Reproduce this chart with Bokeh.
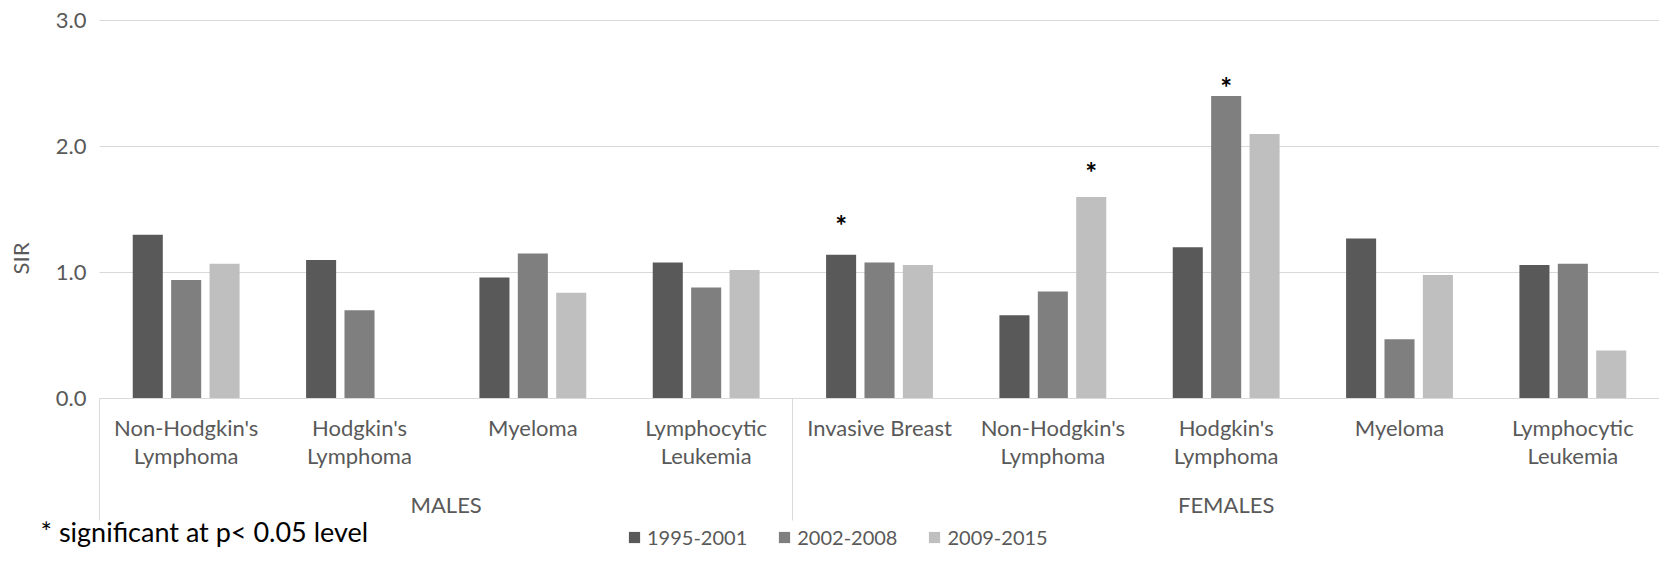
import numpy as np
from bokeh.plotting import figure
from bokeh.models import (ColumnDataSource, Range1d, LinearAxis, FixedTicker,
                          Legend, LegendItem, Label, PrintfTickFormatter)
from bokeh.core.properties import value
from bokeh.embed import file_html
from bokeh.resources import INLINE

# ---------------- data ----------------
groups = ["MALES", "FEMALES"]
group_sizes = [4, 5]
cancers = ["Non-Hodgkin's\nLymphoma", "Hodgkin's\nLymphoma", "Myeloma", "Lymphocytic\nLeukemia",
           "Invasive Breast", "Non-Hodgkin's\nLymphoma", "Hodgkin's\nLymphoma", "Myeloma",
           "Lymphocytic\nLeukemia"]
periods = ["1995-2001", "2002-2008", "2009-2015"]
sir_1995_2001 = [1.30, 1.10, 0.96, 1.08, 1.14, 0.66, 1.20, 1.27, 1.06]
sir_2002_2008 = [0.94, 0.70, 1.15, 0.88, 1.08, 0.85, 2.40, 0.47, 1.07]
sir_2009_2015 = [1.07, None, 0.84, 1.02, 1.06, 1.60, 2.10, 0.98, 0.38]
star_category = [4, 5, 6]
star_period = [0, 2, 1]
star_y = [1.40, 1.82, 2.50]
y_ticks = [0, 1, 2, 3]
y_label = "SIR"
footnote = "* significant at p< 0.05 level"

# ---------------- style / layout ----------------
FONT = "Lato"
GRAY = "#595959"
LINE = "#d9d9d9"
colors = ["#595959", "#7f7f7f", "#bfbfbf"]
PITCH = 0.2215          # distance between bars of a group (category units)
BAR_W = 0.1734          # bar width (category units)
W, H = 1659, 549        # figure size (px)
LEFT_PX = 99            # pixel column of the plot area's left edge
TOP_PX = 20             # pixel row of SIR = 3
ZERO_PX = 398           # pixel row of SIR = 0
SEP_LEN = 122           # length of group separators below the axis (px)

n = len(cancers)
y_max = max(y_ticks)
px_per_unit = (ZERO_PX - TOP_PX) / y_max
cat_px = (W - LEFT_PX) / n
x_lo = -LEFT_PX / cat_px
y_hi = y_max + TOP_PX / px_per_unit
y_lo = -(H - ZERO_PX) / px_per_unit

centers = np.arange(n) + 0.5
bounds = np.concatenate([[0], np.cumsum(group_sizes)]).astype(float)
group_centers = (bounds[:-1] + bounds[1:]) / 2

p = figure(width=W, height=H, x_range=Range1d(x_lo, n), y_range=Range1d(y_lo, y_hi),
           x_axis_type=None, y_axis_type=None,
           output_backend="svg", toolbar_location=None,
           min_border_left=0, min_border_right=0, min_border_top=0, min_border_bottom=0)
p.outline_line_color = None
p.background_fill_color = "white"
p.border_fill_color = "white"

# horizontal grid lines across the category area
p.segment(x0=[0] * len(y_ticks), x1=[n] * len(y_ticks), y0=y_ticks, y1=y_ticks,
          line_color=LINE, line_width=1)

# y axis at the left edge of the category area
yaxis = LinearAxis(ticker=FixedTicker(ticks=y_ticks), fixed_location=0, bounds=(0, y_max),
                   formatter=PrintfTickFormatter(format="%.1f"),
                   axis_line_color=None, major_tick_line_color=None, minor_tick_line_color=None,
                   major_tick_out=0, major_tick_in=0, minor_tick_out=0, minor_tick_in=0,
                   major_label_standoff=13,
                   major_label_text_font=FONT, major_label_text_font_size="22px",
                   major_label_text_color=GRAY)
p.add_layout(yaxis, "left")

# category axis at SIR = 0 (minor ticks draw the group separators)
xt = FixedTicker(ticks=[float(c) for c in centers], minor_ticks=[float(b) for b in bounds])
xaxis = LinearAxis(ticker=xt, fixed_location=0, bounds=(0, n),
                   major_label_overrides={float(c): lab for c, lab in zip(centers, cancers)},
                   axis_line_color=LINE, axis_line_width=1,
                   major_tick_line_color=None, major_tick_out=0, major_tick_in=0,
                   minor_tick_line_color=LINE, minor_tick_line_width=1,
                   minor_tick_out=SEP_LEN, minor_tick_in=0,
                   major_label_standoff=15 - SEP_LEN, major_label_text_font=FONT,
                   major_label_text_font_size="22px", major_label_text_color=GRAY,
                   major_label_text_line_height=1.07)
p.add_layout(xaxis, "below")

# group axis
gt = FixedTicker(ticks=[float(g) for g in group_centers])
gaxis = LinearAxis(ticker=gt, fixed_location=0, bounds=(0, n),
                   major_label_overrides={float(g): lab for g, lab in zip(group_centers, groups)},
                   axis_line_color=None, major_tick_line_color=None, minor_tick_line_color=None,
                   major_tick_out=0, major_tick_in=0, minor_tick_out=0, minor_tick_in=0,
                   major_label_standoff=92,
                   major_label_text_font=FONT, major_label_text_font_size="22px",
                   major_label_text_color=GRAY)
p.add_layout(gaxis, "below")

# bars
series = [sir_1995_2001, sir_2002_2008, sir_2009_2015]
renderers = []
for j, (vals, col) in enumerate(zip(series, colors)):
    src = ColumnDataSource(dict(x=centers + (j - 1) * PITCH, top=np.array(vals, dtype=float)))
    r = p.vbar(x="x", top="top", bottom=0, width=BAR_W, source=src,
               fill_color=col, line_color=None)
    renderers.append(r)

# significance stars
star_x = centers[np.array(star_category)] + (np.array(star_period) - 1) * PITCH
p.text(x=star_x, y=star_y, text=["*"] * len(star_y), text_align="center",
       text_baseline="middle", text_font=value(FONT), text_font_size="28px",
       text_font_style="bold", text_color="black", y_offset=3)

# y axis title
p.add_layout(Label(x=20, y=H - 258, x_units="screen", y_units="screen", text=y_label,
                   angle=np.pi / 2, text_align="center", text_baseline="middle",
                   text_font=FONT, text_font_size="22px", text_color=GRAY))

# footnote
p.add_layout(Label(x=40, y=H - 531, x_units="screen", y_units="screen", text=footnote,
                   text_align="left", text_baseline="middle",
                   text_font=FONT, text_font_size="27px", text_color="black"))

# legend
legend = Legend(items=[LegendItem(label=per, renderers=[r]) for per, r in zip(periods, renderers)],
                orientation="horizontal", location=(627, 0), border_line_color=None,
                background_fill_alpha=0, padding=0, margin=0, spacing=30,
                glyph_width=14, glyph_height=14, label_standoff=6,
                label_text_font=FONT, label_text_font_size="20px", label_text_color=GRAY)
p.add_layout(legend, "center")

open("out.html", "w").write(file_html(p, INLINE))
